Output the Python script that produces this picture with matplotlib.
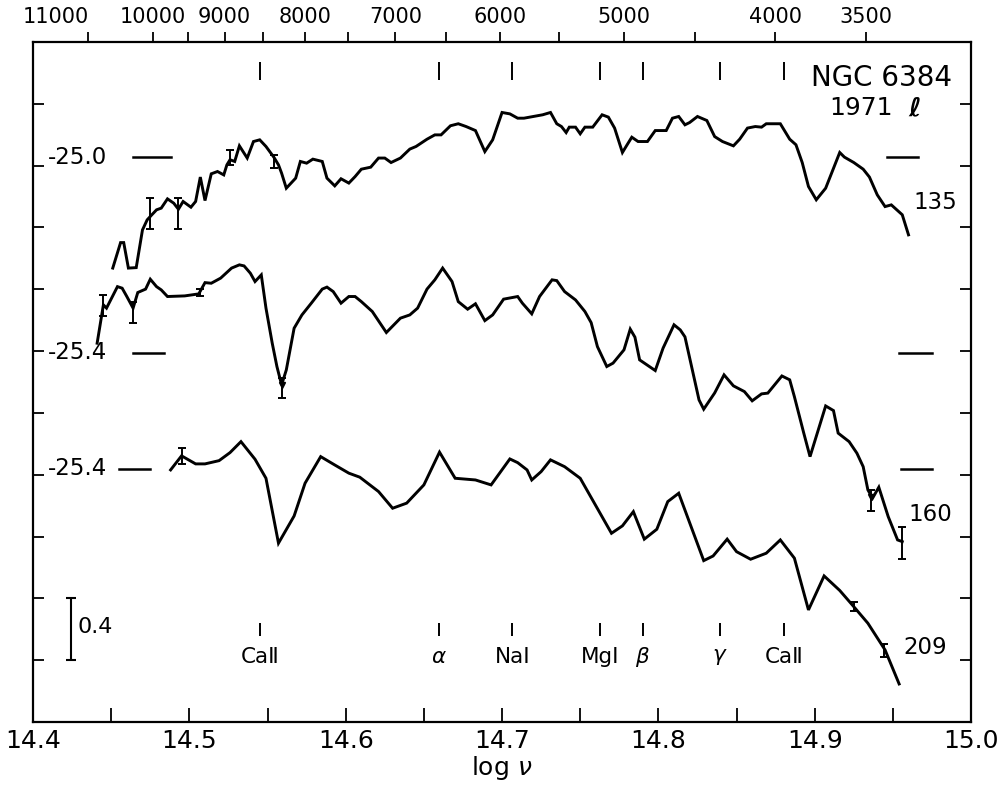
import numpy as np
import matplotlib.pyplot as plt
from matplotlib.ticker import MultipleLocator, FormatStrFormatter

plt.rcParams['font.family'] = ['DejaVu Sans']
plt.rcParams['mathtext.fontset'] = 'dejavusans'

# log(nu) and relative log flux for the three scans
nu_135 = [14.451, 14.456, 14.458, 14.461, 14.466, 14.470, 14.473, 14.476, 14.479, 14.482,
          14.486, 14.490, 14.493, 14.496, 14.501, 14.504, 14.507, 14.510, 14.514, 14.518,
          14.522, 14.524, 14.526, 14.529, 14.532, 14.537, 14.541, 14.545, 14.549, 14.554,
          14.557, 14.559, 14.562, 14.568, 14.571, 14.575, 14.579, 14.585, 14.588, 14.593,
          14.597, 14.602, 14.606, 14.610, 14.616, 14.621, 14.625, 14.629, 14.635, 14.641,
          14.645, 14.652, 14.657, 14.661, 14.667, 14.672, 14.677, 14.683, 14.689, 14.694,
          14.700, 14.705, 14.710,
          14.714, 14.720, 14.726, 14.731, 14.735, 14.738, 14.741, 14.743, 14.747, 14.750,
          14.753, 14.758, 14.764, 14.768, 14.772, 14.777, 14.780, 14.783, 14.787, 14.793,
          14.798, 14.805, 14.809, 14.813, 14.817, 14.820, 14.825, 14.831, 14.836, 14.841,
          14.848, 14.852, 14.857, 14.862, 14.866, 14.869, 14.878, 14.884, 14.888, 14.892,
          14.896, 14.901, 14.907, 14.916, 14.919, 14.925, 14.931, 14.935, 14.940, 14.945,
          14.949, 14.956, 14.960]
f_135 = [2.937, 3.102, 3.102, 2.937, 2.940, 3.184, 3.249, 3.282, 3.314, 3.325,
         3.385, 3.357, 3.318, 3.368, 3.331, 3.368, 3.526, 3.374, 3.547, 3.562,
         3.540, 3.605, 3.638, 3.627, 3.728, 3.649, 3.756, 3.767, 3.724, 3.655,
         3.605, 3.551, 3.454, 3.519, 3.627, 3.616, 3.642, 3.627, 3.519, 3.469,
         3.515, 3.487, 3.529, 3.577, 3.590, 3.649, 3.649, 3.620, 3.649, 3.707,
         3.724, 3.771, 3.799, 3.799, 3.858, 3.871, 3.853, 3.827, 3.691, 3.767,
         3.944, 3.935, 3.907,
         3.907, 3.918, 3.929, 3.944, 3.871, 3.853, 3.814, 3.849, 3.849, 3.806,
         3.849, 3.849, 3.929, 3.914, 3.843, 3.685, 3.735, 3.784, 3.756, 3.756,
         3.827, 3.827, 3.907, 3.918, 3.864, 3.879, 3.918, 3.892, 3.788, 3.756,
         3.728, 3.771, 3.843, 3.853, 3.849, 3.871, 3.871, 3.771, 3.735, 3.620,
         3.465, 3.379, 3.454, 3.685, 3.655, 3.620, 3.577, 3.526, 3.411, 3.335,
         3.346, 3.282, 3.152]

nu_160 = [14.441, 14.445, 14.447, 14.454, 14.457, 14.460, 14.464, 14.467, 14.472, 14.475,
          14.479, 14.482, 14.486, 14.497, 14.506, 14.510, 14.514, 14.520, 14.527, 14.532,
          14.535, 14.539, 14.542, 14.546, 14.549, 14.553, 14.556, 14.559, 14.562, 14.567,
          14.572, 14.578, 14.585, 14.588, 14.592, 14.597, 14.602, 14.606, 14.610, 14.617,
          14.626, 14.635, 14.641, 14.646, 14.652, 14.657, 14.662, 14.668, 14.672, 14.678,
          14.683, 14.689, 14.694, 14.701, 14.710, 14.713, 14.719, 14.724, 14.732, 14.735,
          14.740, 14.747, 14.753, 14.757, 14.761, 14.767, 14.771, 14.778, 14.782, 14.785,
          14.788, 14.798, 14.803, 14.810, 14.814, 14.817, 14.826, 14.829, 14.836, 14.842,
          14.848, 14.855, 14.860, 14.866, 14.870, 14.879, 14.884, 14.887, 14.893, 14.897,
          14.907, 14.912, 14.915, 14.922, 14.927, 14.931, 14.934, 14.937, 14.941, 14.947,
          14.953, 14.956]
f_160 = [2.451, 2.699, 2.678, 2.817, 2.807, 2.753, 2.678, 2.779, 2.801, 2.865,
         2.817, 2.796, 2.753, 2.757, 2.770, 2.843, 2.839, 2.872, 2.937, 2.958,
         2.951, 2.904, 2.850, 2.893, 2.678, 2.451, 2.300, 2.181, 2.278, 2.548,
         2.634, 2.710, 2.801, 2.814, 2.785, 2.710, 2.753, 2.753, 2.720, 2.656,
         2.520, 2.613, 2.634, 2.678, 2.801, 2.861, 2.937, 2.850, 2.720, 2.671,
         2.706, 2.597, 2.634, 2.736, 2.753, 2.710, 2.641, 2.753, 2.861, 2.856,
         2.785, 2.731, 2.656, 2.584, 2.429, 2.300, 2.322, 2.408, 2.542, 2.490,
         2.343, 2.274, 2.419, 2.570, 2.537, 2.492, 2.084, 2.024, 2.129, 2.246,
         2.175, 2.138, 2.078, 2.123, 2.128, 2.239, 2.214, 2.105, 1.869, 1.717,
         2.045, 2.015, 1.869, 1.814, 1.739, 1.652, 1.502, 1.448, 1.519, 1.329,
         1.178, 1.167]

nu_209 = [14.488, 14.495, 14.504, 14.510, 14.519, 14.526, 14.533, 14.542, 14.549, 14.557,
          14.567, 14.574, 14.584, 14.593, 14.602, 14.609, 14.621, 14.630, 14.639, 14.650,
          14.660, 14.670, 14.683, 14.693, 14.705, 14.710, 14.716, 14.719, 14.725, 14.731,
          14.740, 14.750, 14.770, 14.777, 14.784, 14.791, 14.799, 14.806, 14.813, 14.829,
          14.835, 14.844, 14.850, 14.859, 14.869, 14.878, 14.887, 14.896, 14.906, 14.916,
          14.925, 14.934, 14.945, 14.954]
f_209 = [1.631, 1.722, 1.670, 1.670, 1.691, 1.743, 1.814, 1.700, 1.577, 1.157,
         1.333, 1.545, 1.717, 1.663, 1.610, 1.584, 1.491, 1.383, 1.416, 1.534,
         1.746, 1.577, 1.566, 1.534, 1.702, 1.678, 1.631, 1.566, 1.620, 1.696,
         1.652, 1.577, 1.221, 1.269, 1.361, 1.183, 1.247, 1.426, 1.480, 1.044,
         1.074, 1.183, 1.102, 1.053, 1.092, 1.178, 1.060, 0.725, 0.945, 0.851,
         0.746, 0.639, 0.466, 0.246]

# error bars: position, value, half length
eb_135 = ([14.475, 14.493, 14.526, 14.554], [3.291, 3.291, 3.654, 3.628], [0.100, 0.100, 0.049, 0.042])
eb_160 = ([14.445, 14.464, 14.507, 14.559, 14.936, 14.956],
          [2.696, 2.650, 2.780, 2.162, 1.434, 1.159],
          [0.068, 0.068, 0.023, 0.065, 0.068, 0.104])
eb_209 = ([14.495, 14.925, 14.944], [1.722, 0.748, 0.463], [0.052, 0.029, 0.042])

# zero points for each scan
scan_names = ['135', '160', '209']
zero_levels = [3.655, 2.388, 1.640]
zero_labels = ['-25.0', '-25.4', '-25.4']

# wavelength scale along the top (Angstrom)
wl_ticks = [11000, 10000, 9500, 9000, 8500, 8000, 7500, 7000, 6500, 6000, 5500, 5000, 4500, 4000, 3500]
wl_labels = ['11000', '10000', '', '9000', '', '8000', '', '7000', '', '6000', '', '5000', '', '4000', '3500']

# line identifications
line_wl = [8542, 6563, 5893, 5175, 4861, 4340, 3950]
line_names = ['Ca\u2161', r'$\alpha$', 'Na\u2160', 'Mg\u2160', r'$\beta$', r'$\gamma$', 'Ca\u2161']

c_ang = 2.998e18
wl_nu = np.log10(c_ang / np.array(wl_ticks))
line_nu = np.log10(c_ang / np.array(line_wl))

fig = plt.figure(figsize=(9.98, 7.88), dpi=100)
ax = fig.add_axes([0.0331, 0.0838, 0.9399, 0.8629])

lw = 2.1
for nu, f in [(nu_135, f_135), (nu_160, f_160), (nu_209, f_209)]:
    ax.plot(nu, f, color='black', lw=lw, solid_joinstyle='miter')

for x, y, dy in [eb_135, eb_160, eb_209]:
    ax.errorbar(x, y, yerr=dy, fmt='none', ecolor='black', elinewidth=1.4, capsize=2.6, capthick=1.4)
ax.plot([14.559, 14.936], [2.178, 1.455], 'v', color='black', ms=5)

# zero-point dashes and labels
left_dash = [(14.464, 14.488), (14.464, 14.484), (14.455, 14.475)]
right_dash = [(14.946, 14.966), (14.954, 14.975), (14.955, 14.975)]
for lvl, lab, ld, rd in zip(zero_levels, zero_labels, left_dash, right_dash):
    ax.plot(ld, [lvl, lvl], color='black', lw=1.8)
    ax.plot(rd, [lvl, lvl], color='black', lw=1.8)
    ax.text(14.4475, lvl, lab, ha='right', va='center', fontsize=16.5)

name_pos = [(14.963, 3.359), (14.960, 1.340), (14.957, 0.479)]
for name, (x, y) in zip(scan_names, name_pos):
    ax.text(x, y, name, ha='left', va='center', fontsize=16.5)

# line identification marks
ax.vlines(line_nu, 4.155, 4.272, color='black', lw=1.4)
ax.vlines(line_nu, 0.557, 0.641, color='black', lw=1.4)
for x, name in zip(line_nu, line_names):
    ax.text(x, 0.421, name, ha='center', va='center', fontsize=15.5)

# 0.4 scale bar
ax.errorbar([14.424], [0.6], yerr=[0.2], fmt='none', ecolor='black', elinewidth=1.5, capsize=3.5, capthick=1.5)
ax.text(14.4285, 0.615, '0.4', ha='left', va='center', fontsize=16)

ax.text(14.988, 4.165, 'NGC 6384', ha='right', va='center', fontsize=20)
ax.text(14.950, 3.975, '1971', ha='right', va='center', fontsize=18)
ax.text(14.964, 3.972, '\u2113', ha='center', va='center', fontsize=19,
        fontweight='bold', fontstyle='italic')

ax.set_xlim(14.4, 15.0)
ax.set_ylim(0, 4.4)
ax.xaxis.set_major_locator(MultipleLocator(0.1))
ax.xaxis.set_minor_locator(MultipleLocator(0.05))
ax.xaxis.set_major_formatter(FormatStrFormatter('%.1f'))
ax.yaxis.set_major_locator(MultipleLocator(0.4))
ax.yaxis.set_tick_params(labelleft=False)
ax.tick_params(axis='x', which='both', direction='in', top=True, length=10, width=1.3,
               labelsize=18, pad=5)
ax.tick_params(axis='y', which='both', direction='in', right=True, length=8, width=1.3)
ax.set_xlabel(r'log $\nu$', fontsize=18, labelpad=1)
for s in ax.spines.values():
    s.set_linewidth(1.6)

# wavelength axis on top
top = ax.twiny()
top.set_xlim(ax.get_xlim())
top.set_xticks(wl_nu)
top.set_xticklabels(wl_labels)
top.tick_params(axis='x', direction='out', length=7.5, width=1.3, labelsize=15, pad=3)
top.get_xticklabels()[0].set_ha('right')
for s in top.spines.values():
    s.set_visible(False)

fig.savefig('out.png', dpi=100)
